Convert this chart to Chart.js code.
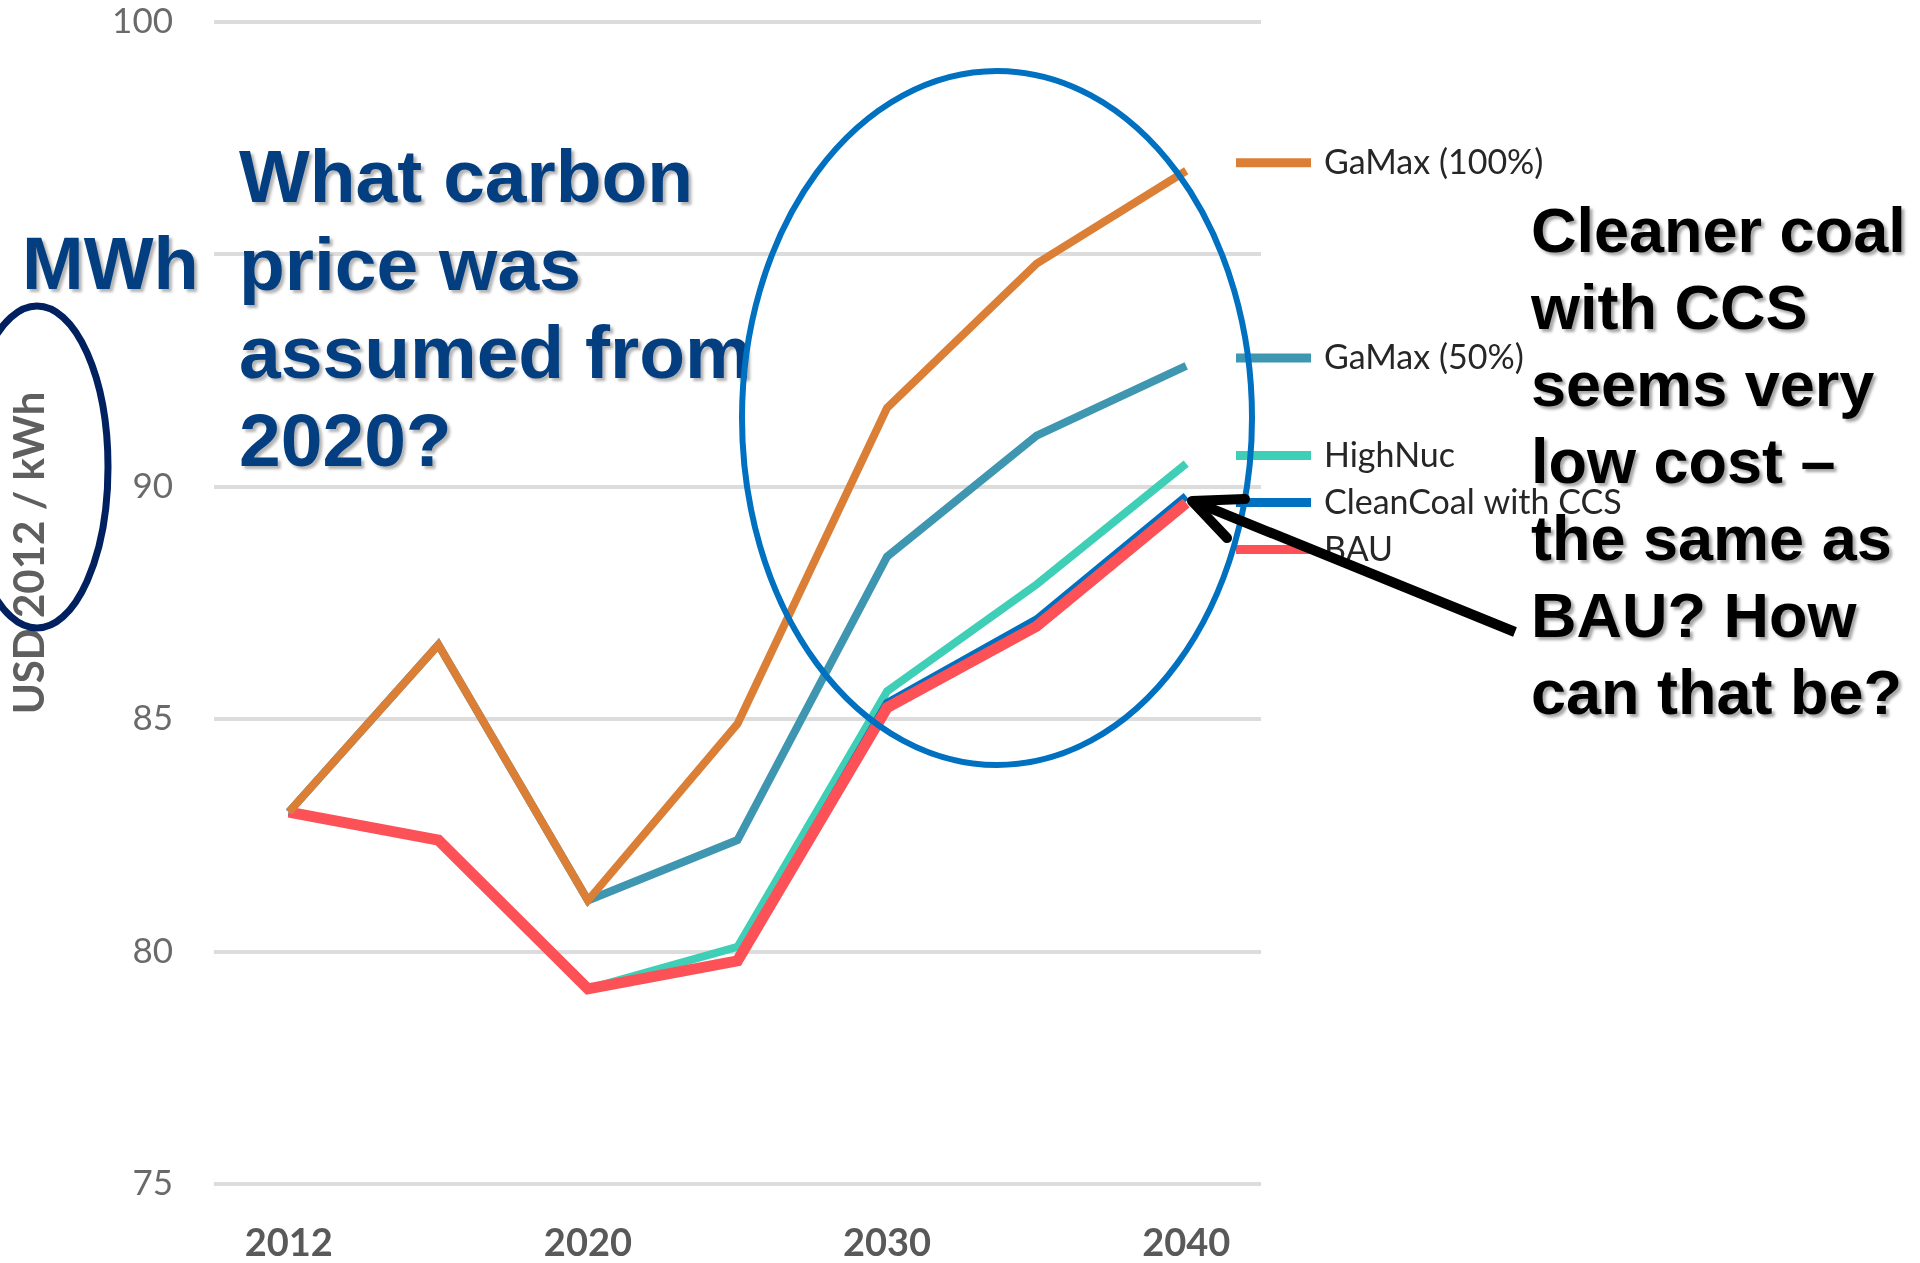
<!DOCTYPE html>
<html lang="en">
<head>
  <meta charset="UTF-8">
  <title>Electricity cost by scenario</title>
  <script src="https://cdn.jsdelivr.net/npm/chart.js@4.4.1/dist/chart.umd.min.js"></script>
  <style>
    html, body { margin: 0; padding: 0; background: #fff; }
    #wrap { position: relative; width: 1920px; height: 1263px; overflow: hidden; }
    #costChart { position: absolute; left: 0; top: 0; }
    .note { position: absolute; font-family: "Liberation Sans", Arial, sans-serif; font-weight: bold; white-space: nowrap; }
    /* blue question box on the left */
    #question { left: 239px; top: 132px; font-size: 75px; line-height: 88px; color: #033f80; text-shadow: 3px 3px 3px rgba(0,0,0,0.3); }
    #unit { left: 22px; top: 229px; font-size: 74px; line-height: 70px; color: #033f80; background: #fff; text-shadow: 3px 3px 3px rgba(0,0,0,0.3); }
    /* black comment on the right */
    #comment { left: 1531px; top: 192px; font-size: 63px; line-height: 77px; color: #000; text-shadow: 3px 3px 3px rgba(0,0,0,0.35); }
    #marks { position: absolute; left: 0; top: 0; pointer-events: none; }
  </style>
</head>
<body>
<div id="wrap">
  <canvas id="costChart" width="1920" height="1263"></canvas>
  <div class="note" id="unit">MWh</div>
  <div class="note" id="question">What carbon<br>price was<br>assumed from<br>2020?</div>
  <div class="note" id="comment">Cleaner coal<br>with CCS<br>seems very<br>low cost –<br>the same as<br>BAU? How<br>can that be?</div>
  <svg id="marks" width="1920" height="1263">
    <ellipse cx="997" cy="418" rx="255" ry="347" fill="none" stroke="#0070c0" stroke-width="6"/>
    <ellipse cx="37" cy="467" rx="71" ry="161" fill="none" stroke="#002060" stroke-width="7"/>
    <line x1="1515" y1="632" x2="1195" y2="502" stroke="#000" stroke-width="10"/>
    <polyline points="1245,499 1192,501 1227,538" fill="none" stroke="#000" stroke-width="10" stroke-linejoin="round" stroke-linecap="round"/>
  </svg>
</div>

<script>
  // scenario years (category axis) and the ones that get a label
  const years = ['2012', '2015', '2020', '2025', '2030', '2035', '2040'];
  const labelledYears = ['2012', '2020', '2030', '2040'];

  // cost per scenario, USD 2012 / kWh
  const gaMax100 = [83.0, 86.6, 81.1, 84.9, 91.7, 94.8, 96.8];
  const gaMax50 = [83.0, 86.6, 81.1, 82.4, 88.5, 91.1, 92.6];
  const highNuc = [83.0, 82.4, 79.2, 80.1, 85.6, 87.9, 90.5];
  const cleanCoal = [83.0, 82.4, 79.2, 79.8, 85.35, 87.15, 89.8];
  const bau = [83.0, 82.4, 79.2, 79.8, 85.25, 87.0, 89.65];

  const yMin = 75;
  const yMax = 100;
  const yStep = 5;

  Chart.defaults.font.family = 'Lato';

  // legend drawn next to the line ends, pushed apart when too close
  const endLegend = {
    id: 'endLegend',
    afterDatasetsDraw(chart) {
      const { ctx, chartArea, scales: { y } } = chart;
      let prev = -Infinity;
      ctx.save();
      ctx.font = '34px Lato';
      ctx.textBaseline = 'middle';
      chart.data.datasets.forEach(ds => {
        const last = ds.data[ds.data.length - 1];
        const ly = Math.max(y.getPixelForValue(last) - 8, prev + 47);
        prev = ly;
        ctx.strokeStyle = ds.borderColor;
        ctx.lineWidth = 9;
        ctx.beginPath();
        ctx.moveTo(chartArea.right - 25, ly);
        ctx.lineTo(chartArea.right + 50, ly);
        ctx.stroke();
        ctx.fillStyle = '#262626';
        ctx.fillText(ds.label, chartArea.right + 63, ly);
      });
      ctx.restore();
    }
  };

  // rotated unit title on the left
  const yTitle = {
    id: 'yTitle',
    afterDraw(chart) {
      const ctx = chart.ctx;
      ctx.save();
      ctx.translate(30, 553);
      ctx.rotate(-Math.PI / 2);
      ctx.font = 'bold 42px Lato';
      ctx.fillStyle = '#5f5f5f';
      ctx.textAlign = 'center';
      ctx.textBaseline = 'middle';
      ctx.fillText('USD 2012 / kWh', 0, 0);
      ctx.restore();
    }
  };

  new Chart(document.getElementById('costChart'), {
    type: 'line',
    data: {
      labels: years,
      datasets: [
        { label: 'GaMax (100%)', data: gaMax100, borderColor: '#db7f36', borderWidth: 8, order: 0 },
        { label: 'GaMax (50%)', data: gaMax50, borderColor: '#3f96b0', borderWidth: 8, order: 4 },
        { label: 'HighNuc', data: highNuc, borderColor: '#3ecfb6', borderWidth: 8, order: 3 },
        { label: 'CleanCoal with CCS', data: cleanCoal, borderColor: '#0070c0', borderWidth: 8, order: 2 },
        { label: 'BAU', data: bau, borderColor: '#fc5257', borderWidth: 11, order: 1 }
      ]
    },
    options: {
      responsive: false,
      animation: false,
      devicePixelRatio: 1,
      layout: { padding: { left: 0, top: 22, right: 659, bottom: 0 } },
      elements: {
        point: { radius: 0 },
        line: { tension: 0, fill: false }
      },
      plugins: {
        legend: { display: false },
        tooltip: { enabled: false }
      },
      scales: {
        x: {
          type: 'category',
          offset: true,
          grid: { display: false, drawTicks: false },
          border: { display: false },
          ticks: {
            autoSkip: false,
            maxRotation: 0,
            padding: 37,
            color: '#595959',
            font: { size: 38, weight: 'bold' },
            callback(value) {
              const lbl = this.getLabelForValue(value);
              return labelledYears.includes(lbl) ? lbl : '';
            }
          },
          afterFit(scale) {
            scale.height = 79;
            scale.paddingLeft = 0;
            scale.paddingRight = 0;
          }
        },
        y: {
          min: yMin,
          max: yMax,
          grid: { color: '#dcdcdc', lineWidth: 4, drawTicks: false },
          border: { display: false },
          ticks: {
            stepSize: yStep,
            padding: 41,
            color: '#6a6a6a',
            font: { size: 35 }
          },
          afterFit(scale) {
            scale.width = 214;
            scale.paddingTop = 0;
            scale.paddingBottom = 0;
          }
        }
      }
    },
    plugins: [endLegend, yTitle]
  });
</script>
</body>
</html>
